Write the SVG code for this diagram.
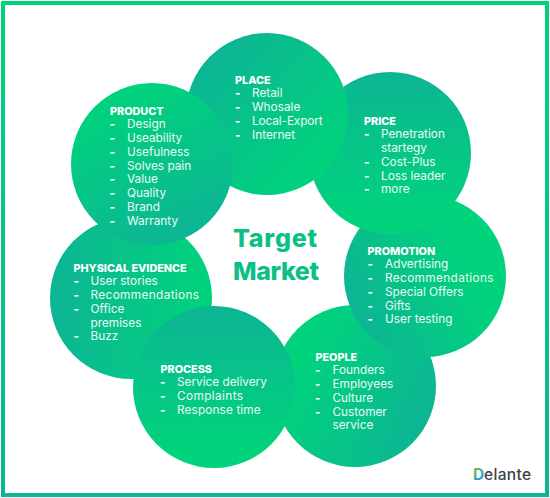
<svg xmlns="http://www.w3.org/2000/svg" width="550" height="498" viewBox="0 0 550 498">
<style>
text{font-family:"Inter","Liberation Sans",sans-serif}
.h{font-size:10.8px;font-weight:800;fill:#fff}
.i{font-size:11.8px;fill:#e9fbf4}
.d{font-size:11.8px;font-weight:800;fill:#e9fbf4}
.t{font-size:25px;font-weight:800;fill:#0cbf85}
.c{stroke:none}
</style>
<defs>
<linearGradient id="frame" x1="0" y1="0" x2="0" y2="1"><stop offset="0" stop-color="#00d37c"/><stop offset="1" stop-color="#0db594"/></linearGradient>
<linearGradient id="gPlace" x1="0.15" y1="0.15" x2="0.85" y2="0.85"><stop offset="0" stop-color="#0db594"/><stop offset="1" stop-color="#00d37c"/></linearGradient>
<linearGradient id="gProduct" x1="0.3" y1="0.05" x2="0.7" y2="0.95"><stop offset="0" stop-color="#00d37c"/><stop offset="1" stop-color="#0db594"/></linearGradient>
<linearGradient id="gV" x1="0" y1="0" x2="0" y2="1"><stop offset="0" stop-color="#0db594"/><stop offset="0.9" stop-color="#00d37c"/></linearGradient>
<linearGradient id="gPromo" x1="0.05" y1="0.7" x2="0.95" y2="0.3"><stop offset="0" stop-color="#0db594"/><stop offset="0.8" stop-color="#00d37c"/></linearGradient>
<linearGradient id="gPeople" x1="0.05" y1="0.3" x2="0.95" y2="0.7"><stop offset="0.1" stop-color="#00d37c"/><stop offset="1" stop-color="#0db594"/></linearGradient>
<linearGradient id="gH" x1="0" y1="0" x2="1" y2="0"><stop offset="0" stop-color="#0db594"/><stop offset="1" stop-color="#00d37c"/></linearGradient>
<linearGradient id="gD" x1="0.3" y1="0" x2="0.8" y2="1"><stop offset="0.1" stop-color="#7cc242"/><stop offset="0.75" stop-color="#1e9be0"/></linearGradient>
</defs>
<rect width="550" height="498" fill="#fff"/>
<rect id="frame-border" x="3" y="3" width="544" height="492" fill="none" stroke="url(#frame)" stroke-width="4"/>
<g id="connectors"></g>
<g id="people"><circle class="c" cx="355" cy="386" r="81" fill="url(#gPeople)"/>
<text class="h" x="315.500" y="361">PEOPLE</text>
<text class="d" x="315" y="374">-</text><text class="i" x="332.500" y="374">Founders</text>
<text class="d" x="315" y="388">-</text><text class="i" x="332.500" y="388">Employees</text>
<text class="d" x="315" y="402">-</text><text class="i" x="332.500" y="402">Culture</text>
<text class="d" x="315" y="416">-</text><text class="i" x="332.500" y="416">Customer</text>
<text class="i" x="332.500" y="429">service</text></g>
<g id="promotion"><circle class="c" cx="425" cy="276" r="81" fill="url(#gPromo)"/>
<text class="h" x="367.500" y="255">PROMOTION</text>
<text class="d" x="367.500" y="268">-</text><text class="i" x="385" y="268">Advertising</text>
<text class="d" x="367.500" y="282">-</text><text class="i" x="385" y="282" textLength="108.600">Recommendations</text>
<text class="d" x="367.500" y="296">-</text><text class="i" x="385" y="296">Special Offers</text>
<text class="d" x="367.500" y="310">-</text><text class="i" x="385" y="310">Gifts</text>
<text class="d" x="367.500" y="323">-</text><text class="i" x="385" y="323">User testing</text></g>
<g id="price"><circle class="c" cx="390" cy="153" r="81" fill="url(#gV)"/>
<text class="h" x="364" y="125">PRICE</text>
<text class="d" x="364" y="138">-</text><text class="i" x="381" y="138">Penetration</text>
<text class="i" x="381" y="152">startegy</text>
<text class="d" x="364" y="166">-</text><text class="i" x="381" y="166">Cost-Plus</text>
<text class="d" x="364" y="180">-</text><text class="i" x="381" y="180">Loss leader</text>
<text class="d" x="364" y="193">-</text><text class="i" x="381" y="193">more</text></g>
<g id="place"><circle class="c" cx="267" cy="114" r="81" fill="url(#gPlace)"/>
<text class="h" x="235" y="84">PLACE</text>
<text class="d" x="235" y="97">-</text><text class="i" x="252" y="97">Retail</text>
<text class="d" x="235" y="111">-</text><text class="i" x="252" y="111">Whosale</text>
<text class="d" x="235" y="125">-</text><text class="i" x="252" y="125" textLength="70.700">Local-Export</text>
<text class="d" x="235" y="139">-</text><text class="i" x="252" y="139">Internet</text></g>
<g id="physical-evidence"><circle class="c" cx="131" cy="298" r="81" fill="url(#gH)"/>
<text class="h" x="73.500" y="272">PHYSICAL EVIDENCE</text>
<text class="d" x="73.500" y="285">-</text><text class="i" x="90.500" y="285">User stories</text>
<text class="d" x="73.500" y="299">-</text><text class="i" x="90.500" y="299" textLength="108.600">Recommendations</text>
<text class="d" x="73.500" y="313">-</text><text class="i" x="90.500" y="313">Office</text>
<text class="i" x="90.500" y="327">premises</text>
<text class="d" x="73.500" y="340">-</text><text class="i" x="90.500" y="340">Buzz</text></g>
<g id="product"><circle class="c" cx="152" cy="164" r="81" fill="url(#gProduct)"/>
<text class="h" x="110" y="115">PRODUCT</text>
<text class="d" x="109.500" y="128">-</text><text class="i" x="127" y="128">Design</text>
<text class="d" x="109.500" y="142">-</text><text class="i" x="127" y="142">Useability</text>
<text class="d" x="109.500" y="156">-</text><text class="i" x="127" y="156">Usefulness</text>
<text class="d" x="109.500" y="170">-</text><text class="i" x="127" y="170">Solves pain</text>
<text class="d" x="109.500" y="183">-</text><text class="i" x="127" y="183">Value</text>
<text class="d" x="109.500" y="197">-</text><text class="i" x="127" y="197">Quality</text>
<text class="d" x="109.500" y="211">-</text><text class="i" x="127" y="211">Brand</text>
<text class="d" x="109.500" y="225">-</text><text class="i" x="127" y="225">Warranty</text></g>
<g id="process"><circle class="c" cx="214" cy="387" r="81" fill="url(#gV)"/>
<text class="h" x="160.500" y="373">PROCESS</text>
<text class="d" x="160" y="386">-</text><text class="i" x="177" y="386">Service delivery</text>
<text class="d" x="160" y="400">-</text><text class="i" x="177" y="400" textLength="66">Complaints</text>
<text class="d" x="160" y="414">-</text><text class="i" x="177" y="414" textLength="83.700">Response time</text></g>
<g id="target-market"><text class="t" x="233" y="247" textLength="84">Target</text><text class="t" x="233" y="280" textLength="86">Market</text></g>
<g id="logo"><text x="473" y="480" font-size="15.500" font-weight="700" fill="url(#gD)">D</text><text x="484" y="480" font-size="15.500" font-weight="500" fill="#3c4146" textLength="47">elante</text></g>
</svg>
